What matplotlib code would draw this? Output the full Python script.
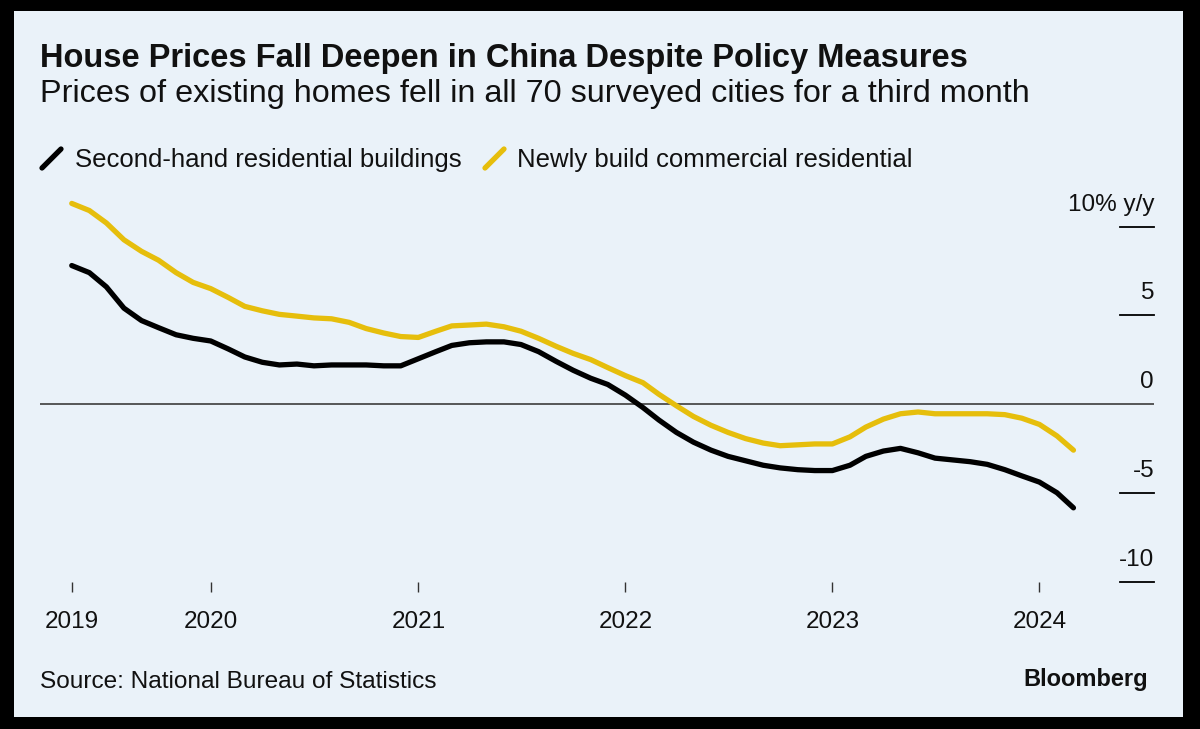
import numpy as np
import pandas as pd
import matplotlib
matplotlib.use("Agg")
import matplotlib.pyplot as plt
from matplotlib.patches import Rectangle
from matplotlib.lines import Line2D

plt.rcParams['font.family'] = ['Liberation Sans', 'DejaVu Sans']

# ---------------- DATA ---------------- #

# monthly, May 2019 - Mar 2024, % y/y
months = pd.date_range("2019-05-01", "2024-03-01", freq="MS")

second_hand = [7.8, 7.4, 6.6, 5.4, 4.7, 4.3, 3.9, 3.7, 3.55, 3.1,
               2.65, 2.35, 2.2, 2.25, 2.15, 2.2, 2.2, 2.2, 2.15, 2.15,
               2.55, 2.95, 3.3, 3.45, 3.5, 3.5, 3.35, 2.95, 2.4, 1.9,
               1.45, 1.1, 0.5, -0.2, -0.9, -1.6, -2.15, -2.6, -2.95, -3.2,
               -3.45, -3.6, -3.7, -3.75, -3.75, -3.45, -2.95, -2.65, -2.5, -2.75,
               -3.05, -3.15, -3.25, -3.4, -3.7, -4.05, -4.4, -5.0, -5.85]

new_build = [11.3, 10.9, 10.2, 9.25, 8.6, 8.1, 7.4, 6.85, 6.5, 6.0,
             5.5, 5.25, 5.05, 4.95, 4.85, 4.8, 4.6, 4.25, 4.0, 3.8,
             3.75, 4.1, 4.4, 4.45, 4.5, 4.35, 4.1, 3.7, 3.25, 2.85,
             2.5, 2.05, 1.6, 1.2, 0.55, -0.1, -0.7, -1.2, -1.6, -1.95,
             -2.2, -2.35, -2.3, -2.25, -2.25, -1.85, -1.3, -0.85, -0.55, -0.45,
             -0.55, -0.55, -0.55, -0.55, -0.6, -0.8, -1.15, -1.8, -2.6]

series_names = ["Second-hand residential buildings", "Newly build commercial residential"]

y_ticks = [10, 5, 0, -5, -10]
y_tick_labels = ["10% y/y", "5", "0", "-5", "-10"]

x_ticks = pd.to_datetime(["2019-05-01", "2020-01-01", "2021-01-01",
                          "2022-01-01", "2023-01-01", "2024-01-01"])
x_tick_labels = ["2019", "2020", "2021", "2022", "2023", "2024"]

# ---------------- STYLE ---------------- #

bg = "#EAF2F9"
black = "#000000"
yellow = "#E6BE0C"
ink = "#111111"

W, H = 1200, 729

def fx(px):
    return px / W

def fy(py):
    return 1 - py / H

fig = plt.figure(figsize=(12, 7.29), dpi=100, facecolor=black)
fig.patches.append(Rectangle((fx(14), fy(717)), fx(1183) - fx(14), fy(11) - fy(717),
                             transform=fig.transFigure, facecolor=bg, edgecolor="none", zorder=-5))

# plot area: x 40..1154 px, y 190..592 px
ax = fig.add_axes([fx(40), fy(592), fx(1154) - fx(40), fy(190) - fy(592)])
ax.set_facecolor("none")
for s in ax.spines.values():
    s.set_visible(False)

ax.plot(months, second_hand, color=black, lw=3.8, solid_capstyle="round", solid_joinstyle="round", zorder=3)
ax.plot(months, new_build, color=yellow, lw=3.8, solid_capstyle="round", solid_joinstyle="round", zorder=3)

ax.set_xlim(pd.Timestamp("2019-03-06"), pd.Timestamp("2024-07-21"))
ax.set_ylim((404 - 592) / 17.75, (404 - 190) / 17.75)

ax.axhline(0, color="#4a4a4a", lw=1.3, zorder=2)

# y ticks: short lines at right, labels above them
ax.set_yticks([])
for v, lab in zip(y_ticks, y_tick_labels):
    if v != 0:
        ax.plot([0.9695, 1.0], [v, v], color=black, lw=1.3,
                transform=ax.get_yaxis_transform(), clip_on=False)
    ax.text(1.0, v + 0.9, lab, ha="right", va="baseline", fontsize=17.5,
            transform=ax.get_yaxis_transform(), color=ink)

ax.set_xticks(x_ticks)
ax.set_xticklabels(x_tick_labels)
ax.tick_params(axis="x", direction="in", length=7, width=1, color="#333333",
               pad=14, labelsize=17.5, labelcolor=ink)

# ---------------- TEXT ---------------- #

fig.text(fx(40), fy(67), "House Prices Fall Deepen in China Despite Policy Measures",
         fontsize=23.5, fontweight="bold", va="baseline", color=ink)
fig.text(fx(40), fy(102), "Prices of existing homes fell in all 70 surveyed cities for a third month",
         fontsize=23.3, va="baseline", color=ink)

fig.lines.append(Line2D([fx(42), fx(61)], [fy(168), fy(149)], transform=fig.transFigure,
                        color=black, lw=3.8, solid_capstyle="round"))
fig.text(fx(75), fy(167), series_names[0], fontsize=18.5, va="baseline", color=ink)
fig.lines.append(Line2D([fx(485), fx(504)], [fy(168), fy(149)], transform=fig.transFigure,
                        color=yellow, lw=3.8, solid_capstyle="round"))
fig.text(fx(517), fy(167), series_names[1], fontsize=18.5, va="baseline", color=ink)

fig.text(fx(40), fy(688), "Source: National Bureau of Statistics", fontsize=17.6,
         va="baseline", color=ink)
fig.text(fx(1148), fy(686), "Bloomberg", fontsize=17, fontweight="bold",
         ha="right", va="baseline", color=ink)

fig.savefig("out.png", dpi=100, facecolor=black)
